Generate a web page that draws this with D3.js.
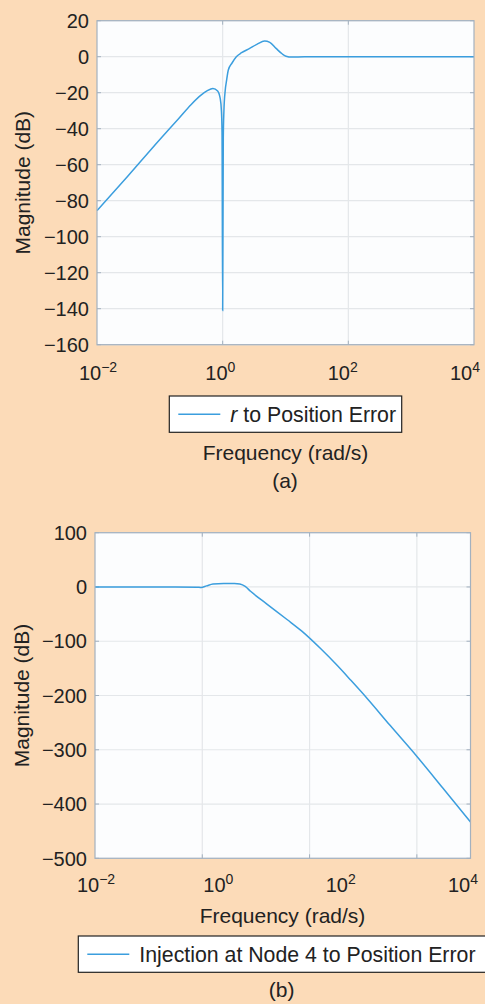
<!DOCTYPE html>
<html><head><meta charset="utf-8">
<script src="https://cdn.jsdelivr.net/npm/d3@7"></script>
<style>
html,body{margin:0;padding:0;background:#fcdbb8;}
svg{display:block;}
text{font-family:"Liberation Sans",Arial,Helvetica,sans-serif;fill:#222;}
</style></head>
<body><svg id="c" width="485" height="1004"></svg>
<script>
// ---- Data: panel (a) r to Position Error ----
const freqA = [0.01, 0.0316, 0.1, 0.2, 0.316, 0.447, 0.562, 0.70, 0.832, 0.912, 0.955, 0.977, 1, 1.023, 1.047, 1.096, 1.156, 1.23, 1.41, 1.65, 2.0, 2.69, 3.55, 4.65, 5.62, 7.08, 8.91, 10.2, 12.6, 20, 100, 10000];
const magA  = [-85.5, -66, -46, -34.3, -26.5, -21.5, -19, -17.6, -19, -23, -30, -42, -141, -45, -30, -19, -13, -7.4, -3.5, 0, 2.2, 4.6, 7, 8.7, 8, 4.6, 1.5, 0.3, -0.2, 0, 0, 0];
const yTicksA = [20, 0, -20, -40, -60, -80, -100, -120, -140, -160];
const legendA = "to Position Error";

// ---- Data: panel (b) Injection at Node 4 to Position Error ----
const freqB = [0.01, 0.316, 0.794, 0.955, 1.2, 1.585, 2.51, 3.98, 5.01, 6.31, 7.94, 15.8, 38, 70.8, 162, 316, 589, 1175, 3162, 9772, 30200, 100000];
const magB  = [0, 0, -0.3, -1, 2, 5.5, 6.5, 6.5, 5.5, 1, -8, -31, -60, -81, -114, -143, -172, -205, -255, -311, -370, -433];
const yTicksB = [100, 0, -100, -200, -300, -400, -500];
const legendB = "Injection at Node 4 to Position Error";

const xTickLabels = [1e-2, 1e0, 1e2, 1e4];
const xTickExp = ["\u22122", "0", "2", "4"];

const svg = d3.select("#c");
const lineColor = "#3b9ede", boxColor = "#a3b1bf", gridColor = "#e4e7ea";

function panel(cfg){
  const g = svg.append("g");
  const x = d3.scaleLog().domain(cfg.xDomain).range([cfg.left, cfg.right]);
  const y = d3.scaleLinear().domain(cfg.yDomain).range([cfg.bottom, cfg.top]);
  const xl = d3.scaleLog().domain([1e-2, 1e4]).range([cfg.left + 1, cfg.left + 368]);
  g.append("rect").attr("x", cfg.left).attr("y", cfg.top)
    .attr("width", cfg.right - cfg.left).attr("height", cfg.bottom - cfg.top)
    .attr("fill", "#fcfdfe");
  // grid
  g.selectAll(".gy").data(cfg.yTicks).enter().append("line")
    .attr("x1", cfg.left).attr("x2", cfg.right)
    .attr("y1", d => y(d)).attr("y2", d => y(d))
    .attr("stroke", gridColor).attr("stroke-width", 1.2);
  g.selectAll(".gx").data(cfg.xGrid).enter().append("line")
    .attr("x1", d => x(d)).attr("x2", d => x(d))
    .attr("y1", cfg.top).attr("y2", cfg.bottom)
    .attr("stroke", gridColor).attr("stroke-width", 1.2);
  // inner ticks
  const tl = 4;
  cfg.yTicks.forEach(v => {
    g.append("line").attr("x1", cfg.left).attr("x2", cfg.left + tl).attr("y1", y(v)).attr("y2", y(v)).attr("stroke", boxColor);
    g.append("line").attr("x1", cfg.right).attr("x2", cfg.right - tl).attr("y1", y(v)).attr("y2", y(v)).attr("stroke", boxColor);
  });
  cfg.xGrid.forEach(v => {
    g.append("line").attr("x1", x(v)).attr("x2", x(v)).attr("y1", cfg.bottom).attr("y2", cfg.bottom - tl).attr("stroke", boxColor);
    g.append("line").attr("x1", x(v)).attr("x2", x(v)).attr("y1", cfg.top).attr("y2", cfg.top + tl).attr("stroke", boxColor);
  });
  // data line
  const line = d3.line().x(d => x(d[0])).y(d => y(d[1])).curve(d3.curveMonotoneX);
  g.append("path").datum(d3.zip(cfg.freq, cfg.mag)).attr("d", line)
    .attr("fill", "none").attr("stroke", lineColor).attr("stroke-width", 1.5);
  // box
  g.append("rect").attr("x", cfg.left).attr("y", cfg.top)
    .attr("width", cfg.right - cfg.left).attr("height", cfg.bottom - cfg.top)
    .attr("fill", "none").attr("stroke", boxColor).attr("stroke-width", 1.2);
  // y tick labels
  g.selectAll(".yl").data(cfg.yTicks).enter().append("text")
    .attr("x", cfg.left - 8).attr("y", d => y(d)).attr("dy", "0.36em")
    .attr("text-anchor", "end").style("font-size", "20px")
    .text(d => d3.format("d")(d));
  // x tick labels
  xTickLabels.forEach((v, i) => {
    const t = g.append("text").attr("x", xl(v)).attr("y", cfg.xLabelY)
      .attr("text-anchor", "middle").style("font-size", "20px");
    t.append("tspan").text("10");
    t.append("tspan").attr("dy", -8).style("font-size", "14px").text(xTickExp[i]);
  });
  // y axis label
  g.append("text").attr("transform", `translate(${cfg.yLabelX},${(cfg.top + cfg.bottom) / 2}) rotate(-90)`)
    .attr("text-anchor", "middle").style("font-size", "21px").text("Magnitude (dB)");
  // x axis label
  g.append("text").attr("x", cfg.xTitleX).attr("y", cfg.xTitleY)
    .attr("text-anchor", "middle").style("font-size", "21px").text("Frequency (rad/s)");
  // legend
  const lg = cfg.legend;
  g.append("rect").attr("x", lg.x).attr("y", lg.y).attr("width", lg.w).attr("height", lg.h)
    .attr("fill", "#fff").attr("stroke", "#222").attr("stroke-width", 1.2);
  g.append("line").attr("x1", lg.x + 9).attr("x2", lg.x + 51).attr("y1", lg.y + lg.h / 2).attr("y2", lg.y + lg.h / 2)
    .attr("stroke", lineColor).attr("stroke-width", 1.5);
  const lt = g.append("text").attr("x", lg.x + 61).attr("y", lg.y + lg.h / 2).attr("dy", "0.36em")
    .style("font-size", "21.3px");
  if (lg.italic) { lt.append("tspan").style("font-style", "italic").text(lg.italic + " "); }
  lt.append("tspan").text(lg.text);
  // panel tag
  g.append("text").attr("x", cfg.tagX).attr("y", cfg.tagY).attr("text-anchor", "middle")
    .style("font-size", "21px").text(cfg.tag);
}

panel({
  left: 97, right: 474, top: 20.7, bottom: 344.7,
  xDomain: [1e-2, 1e4], yDomain: [-160, 20],
  xGrid: [1e0, 1e2], yTicks: yTicksA,
  freq: freqA, mag: magA,
  xLabelY: 380, yLabelX: 30, xTitleX: 285.5, xTitleY: 460,
  legend: {x: 169.3, y: 396, w: 232.4, h: 36.3, italic: "r", text: legendA},
  tag: "(a)", tagX: 285, tagY: 488
});

panel({
  left: 95, right: 470.5, top: 532.7, bottom: 858.3,
  xDomain: [1e-2, 1e5], yDomain: [-500, 100],
  xGrid: [1e0, 1e2, 1e4], yTicks: yTicksB,
  freq: freqB, mag: magB,
  xLabelY: 891.7, yLabelX: 29, xTitleX: 282.5, xTitleY: 923.3,
  legend: {x: 78.3, y: 936, w: 410, h: 36.3, italic: null, text: legendB},
  tag: "(b)", tagX: 281.7, tagY: 996.5
});
</script></body></html>
